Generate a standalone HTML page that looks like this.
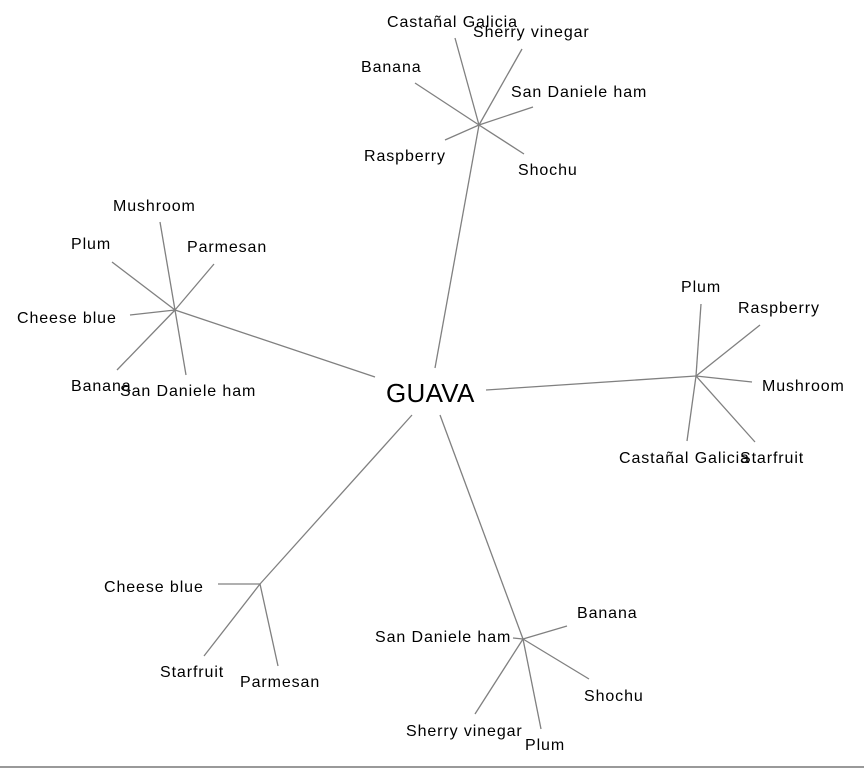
<!DOCTYPE html>
<html><head><meta charset="utf-8"><style>
html,body{margin:0;padding:0;background:#fff;}
svg{display:block;}
text{font-family:"Liberation Sans",Arial,sans-serif;font-size:16px;fill:#000;letter-spacing:0.9px;}
line{stroke:#808080;stroke-width:1.3;}
</style></head><body>
<svg width="864" height="768" viewBox="0 0 864 768">
<line x1="435" y1="368" x2="479" y2="125"/>
<line x1="375" y1="377" x2="175" y2="310"/>
<line x1="486" y1="390" x2="696" y2="376"/>
<line x1="412" y1="415" x2="260" y2="584"/>
<line x1="440" y1="415" x2="523" y2="639"/>
<line x1="479" y1="125" x2="455" y2="38"/>
<line x1="479" y1="125" x2="522" y2="49"/>
<line x1="479" y1="125" x2="415" y2="83"/>
<line x1="479" y1="125" x2="533" y2="107"/>
<line x1="479" y1="125" x2="445" y2="140"/>
<line x1="479" y1="125" x2="524" y2="154"/>
<line x1="175" y1="310" x2="160" y2="222"/>
<line x1="175" y1="310" x2="214" y2="264"/>
<line x1="175" y1="310" x2="112" y2="262"/>
<line x1="175" y1="310" x2="130" y2="315"/>
<line x1="175" y1="310" x2="117" y2="370"/>
<line x1="175" y1="310" x2="186" y2="375"/>
<line x1="696" y1="376" x2="701" y2="304"/>
<line x1="696" y1="376" x2="760" y2="325"/>
<line x1="696" y1="376" x2="752" y2="382"/>
<line x1="696" y1="376" x2="755" y2="442"/>
<line x1="696" y1="376" x2="687" y2="441"/>
<line x1="260" y1="584" x2="218" y2="584"/>
<line x1="260" y1="584" x2="204" y2="656"/>
<line x1="260" y1="584" x2="278" y2="666"/>
<line x1="523" y1="639" x2="513" y2="638"/>
<line x1="523" y1="639" x2="567" y2="626"/>
<line x1="523" y1="639" x2="589" y2="679"/>
<line x1="523" y1="639" x2="541" y2="729"/>
<line x1="523" y1="639" x2="475" y2="714"/>
<line x1="0" y1="767" x2="864" y2="767" style="stroke:#999;stroke-width:2"/>

<text x="386" y="402" style="font-size:26px;letter-spacing:0.3px">GUAVA</text>

<text x="387" y="27">Castañal Galicia</text>
<text x="473" y="37">Sherry vinegar</text>
<text x="361" y="72">Banana</text>
<text x="511" y="97">San Daniele ham</text>
<text x="364" y="161">Raspberry</text>
<text x="518" y="175">Shochu</text>

<text x="113" y="211">Mushroom</text>
<text x="71" y="249">Plum</text>
<text x="187" y="252">Parmesan</text>
<text x="17" y="323">Cheese blue</text>
<text x="71" y="391">Banana</text>
<text x="120" y="396">San Daniele ham</text>

<text x="681" y="292">Plum</text>
<text x="738" y="313">Raspberry</text>
<text x="762" y="391">Mushroom</text>
<text x="619" y="463">Castañal Galicia</text>
<text x="740" y="463">Starfruit</text>

<text x="104" y="592">Cheese blue</text>
<text x="160" y="677">Starfruit</text>
<text x="240" y="687">Parmesan</text>

<text x="375" y="642">San Daniele ham</text>
<text x="577" y="618">Banana</text>
<text x="584" y="701">Shochu</text>
<text x="406" y="736">Sherry vinegar</text>
<text x="525" y="750">Plum</text>
</svg>
</body></html>
